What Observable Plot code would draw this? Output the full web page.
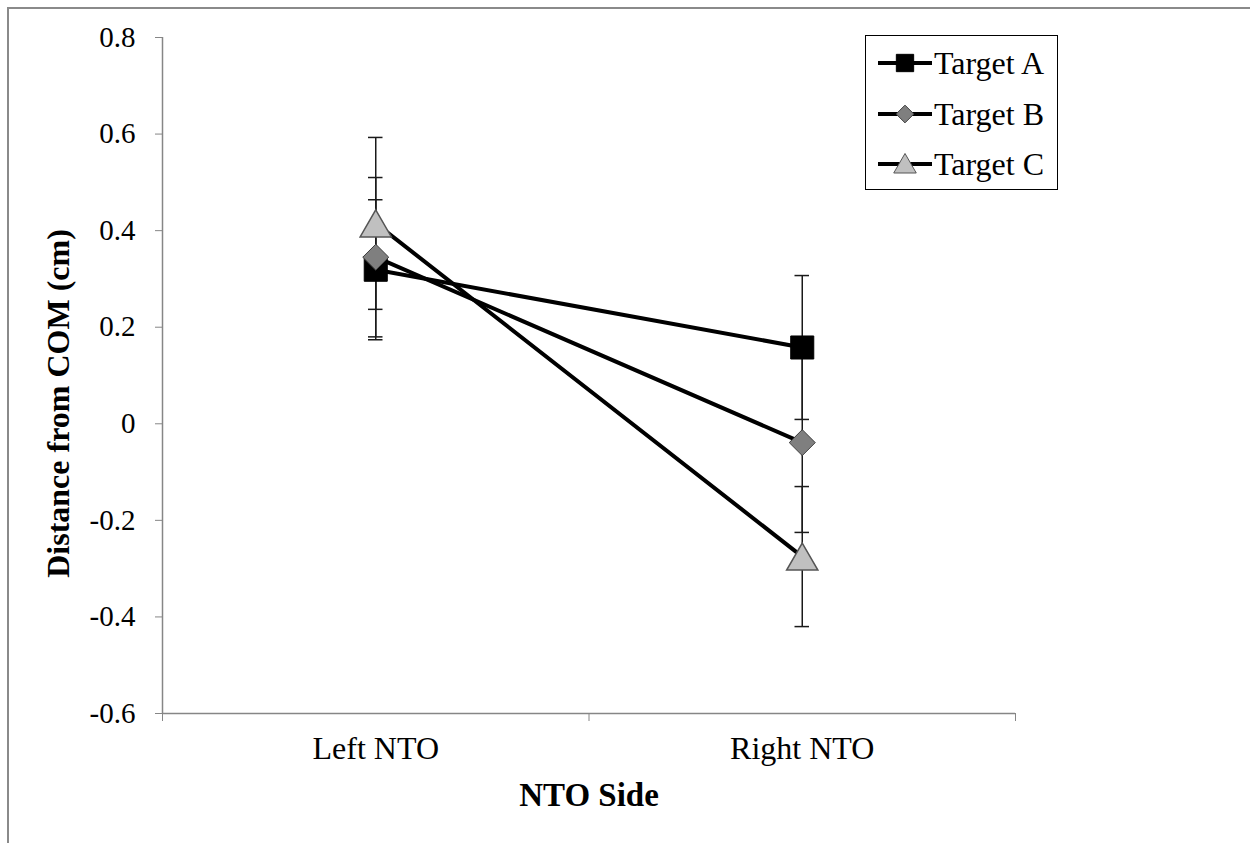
<!DOCTYPE html>
<html>
<head>
<meta charset="utf-8">
<script src="https://cdn.jsdelivr.net/npm/d3@7"></script>
<script src="https://cdn.jsdelivr.net/npm/@observablehq/plot@0.6"></script>
<style>
  html, body { margin: 0; padding: 0; background: #fff; }
  #wrap { position: relative; width: 1250px; height: 843px; overflow: hidden; font-family: 'Liberation Serif', 'Times New Roman', serif; }
  #border { position: absolute; left: 7px; top: 7px; width: 1250px; height: 843px; border-left: 2px solid #8a8a8a; border-top: 2px solid #8a8a8a; pointer-events: none; }
  #legend { position: absolute; left: 865px; top: 35px; width: 191px; height: 153px; border: 1.5px solid #000; background: #fff; }
  .row { position: absolute; left: 0; height: 40px; display: flex; align-items: center; }
  .row span { font-size: 32px; color: #000; margin-left: 0px; line-height: 1; }
</style>
</head>
<body>
<div id="wrap">
  <div id="chart"></div>
  <div id="border"></div>
  <div id="legend"></div>
</div>
<script>
// ---- data ----
const categories = ["Left NTO", "Right NTO"];
const seriesNames = ["Target A", "Target B", "Target C"];
const meanA = [0.319, 0.158];
const meanB = [0.345, -0.039];
const meanC = [0.415, -0.275];
const errA = [0.145, 0.149];
const errB = [0.165, 0.186];
const errC = [0.178, 0.145];
const yTicks = [-0.6, -0.4, -0.2, 0, 0.2, 0.4, 0.6, 0.8];

const means = [meanA, meanB, meanC];
const errs = [errA, errB, errC];
const rows = seriesNames.flatMap((s, si) => categories.map((c, ci) => ({
  series: s, cat: c, xi: ci + 0.5, y: means[si][ci], e: errs[si][ci]
})));
const caps = rows.flatMap(d => [{xi: d.xi, y: d.y + d.e}, {xi: d.xi, y: d.y - d.e}]);
const capHalf = 0.017;

const styles = {
  "Target A": {symbol: "square", r: 13, fill: "#000000", stroke: "#000000", strokeWidth: 1, dy: 0},
  "Target B": {symbol: "diamond2", r: 11.7, fill: "#7f7f7f", stroke: "#3c3c3c", strokeWidth: 1, dy: 0},
  "Target C": {symbol: "triangle", r: 11.6, fill: "#c0c0c0", stroke: "#555555", strokeWidth: 1.5, dy: 4.5}
};

const fmt = d => d === 0 ? "0" : d.toFixed(1);

const chart = Plot.plot({
  width: 1250,
  height: 843,
  marginLeft: 162,
  marginRight: 235,
  marginTop: 37,
  marginBottom: 130,
  x: {domain: [0, 2]},
  y: {domain: [-0.6, 0.8]},
  style: {fontFamily: "'Liberation Serif', 'Times New Roman', serif", fontSize: "29px", background: "transparent", color: "#000"},
  marks: [
    Plot.ruleY([-0.6], {stroke: "#868686", strokeWidth: 1.5}),
    Plot.ruleX([0], {y1: -0.6, y2: 0.8, stroke: "#868686", strokeWidth: 1.5}),
    Plot.axisY({ticks: yTicks, tickSize: 7, tickPadding: 20, tickFormat: fmt, label: null, stroke: "#868686", color: "#000", fontSize: 29}),
    Plot.axisX({ticks: [0, 1, 2], tickSize: 8, tickFormat: () => "", label: null, stroke: "#868686"}),
    Plot.axisX({ticks: [0.5, 1.5], tickSize: 0, tickPadding: 23, tickFormat: d => categories[Math.floor(d)], label: null, color: "#000", fontSize: 32}),
    Plot.text(["Distance from COM (cm)"], {frameAnchor: "left", rotate: -90, dx: -104, dy: 28, fontWeight: "bold", fontSize: 32, lineAnchor: "middle", textAnchor: "middle"}),
    Plot.text(["NTO Side"], {frameAnchor: "bottom", dy: 82, fontWeight: "bold", fontSize: 33, lineAnchor: "middle", textAnchor: "middle"}),
    Plot.line(rows, {x: "xi", y: "y", z: "series", stroke: "#000", strokeWidth: 4}),
    Plot.ruleX(rows, {x: "xi", y1: d => d.y - d.e, y2: d => d.y + d.e, stroke: "#1a1a1a", strokeWidth: 1.5}),
    Plot.ruleY(caps, {y: "y", x1: d => d.xi - capHalf, x2: d => d.xi + capHalf, stroke: "#1a1a1a", strokeWidth: 1.5}),
    ...seriesNames.map(s => Plot.dot(rows.filter(d => d.series === s), {
      x: "xi", y: "y", symbol: styles[s].symbol, r: styles[s].r, fill: styles[s].fill,
      stroke: styles[s].stroke, strokeWidth: styles[s].strokeWidth, dy: styles[s].dy
    }))
  ]
});
document.getElementById("chart").appendChild(chart);

// ---- legend ----
const legend = d3.select("#legend");
const legendSymbols = {square: d3.symbolSquare, diamond2: d3.symbolDiamond2, triangle: d3.symbolTriangle};
const legendSizes = {"Target A": 300, "Target B": 200, "Target C": 220};
const legendDy = {"Target A": 0, "Target B": 0, "Target C": 2.5};
seriesNames.forEach((s, i) => {
  const row = legend.append("div").attr("class", "row").style("top", (7 + i * 50.5) + "px").style("left", "10px");
  const svg = row.append("svg").attr("width", 58).attr("height", 40);
  svg.append("line").attr("x1", 2).attr("x2", 56).attr("y1", 20).attr("y2", 20).attr("stroke", "#000").attr("stroke-width", 4);
  svg.append("path")
    .attr("d", d3.symbol(legendSymbols[styles[s].symbol], legendSizes[s])())
    .attr("transform", `translate(29,${20 + legendDy[s]})`)
    .attr("fill", styles[s].fill).attr("stroke", styles[s].stroke).attr("stroke-width", 1);
  row.append("span").text(s);
});
</script>
</body>
</html>
